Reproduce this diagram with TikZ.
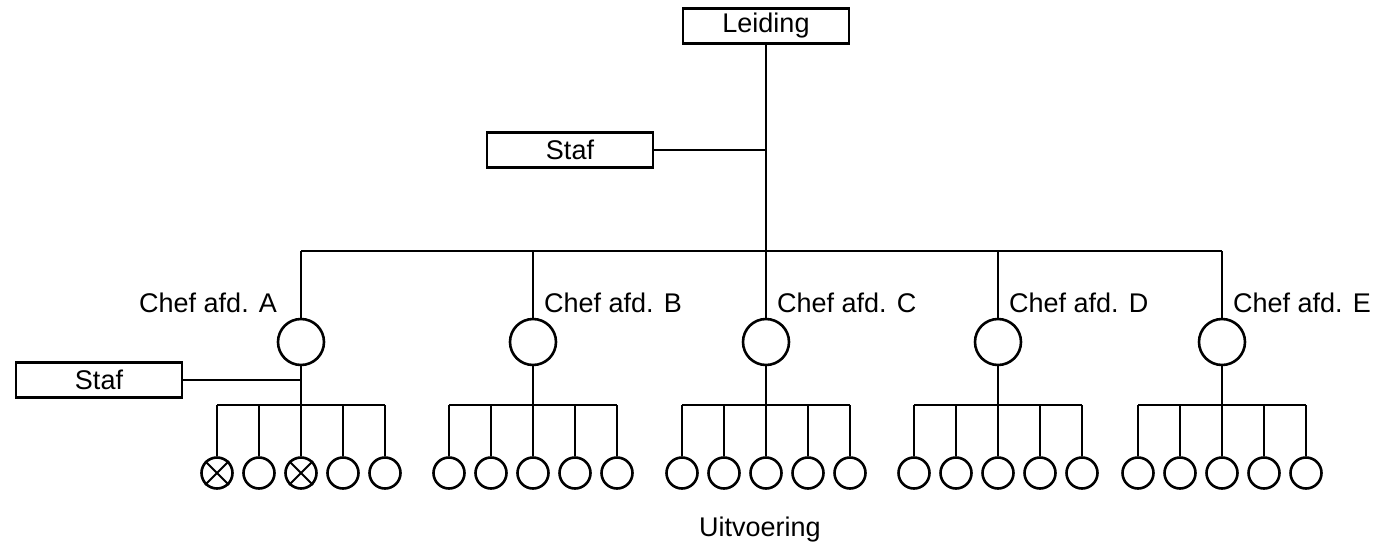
\documentclass[tikz,border=0pt]{standalone}
\usepackage{fontspec}
\setmainfont{Liberation Sans}
\usetikzlibrary{positioning}

\begin{document}
\begin{tikzpicture}[x=1pt,y=-1pt]
	\tikzset{every node/.style={font=\fontsize{27}{32}\selectfont}}
	\tikzset{box/.style={draw,line width=2.8pt,minimum width=166pt,minimum height=35pt,inner sep=0pt}}
	\tikzset{chef/.style={draw,circle,line width=2.6pt,minimum size=46pt,inner sep=0pt}}
	\tikzset{lid/.style={draw,circle,line width=2.6pt,minimum size=31pt,inner sep=0pt}}
	\tikzset{verb/.style={line width=2.8pt}}
	\tikzset{label/.style={inner sep=0pt}}
	\useasboundingbox (0,0) rectangle (1377,547);
	% top
	\node[box] (leiding) at (766,26) {Leiding};
	\node[box] (staf) at (570,150) {Staf};
	\coordinate (top) at (766,251);
	\draw[verb] (leiding) -- (top);
	\draw[verb] (staf) -- (staf -| leiding);
	% departments
	\foreach \n/\x in {A/301,B/533,C/766,D/998,E/1222}{
		\node[chef] (chef\n) at (\x,342) {};
		\coordinate (bus\n) at (\x,405);
		\draw[verb] (chef\n) -- (chef\n |- top);
		\draw[verb] (chef\n) -- (bus\n);
		\foreach \i in {1,...,5}{
			\node[lid] (lid\n\i) at (\x+\i*42-126,473) {};
			\draw[verb] (lid\n\i) -- (lid\n\i |- bus\n);
		}
		\draw[verb] (lid\n1 |- bus\n) -- (lid\n5 |- bus\n);
	}
	\draw[verb] (chefA |- top) -- (chefE |- top);
	% labels
	\node[label,anchor=east] (labA) at (277,303) {Chef afd. A};
	\foreach \n/\x in {B/544,C/777,D/1009,E/1233}
		\node[label,anchor=west] (lab\n) at (\x,303) {Chef afd. \n};
	% staf of A
	\node[box] (stafA) at (99,380) {Staf};
	\draw[verb] (stafA) -- (stafA -| chefA);
	\foreach \i in {1,3}
		\draw[line width=2pt] (lidA\i.45) -- (lidA\i.225) (lidA\i.135) -- (lidA\i.315);
	\node (uitvoering) at (760,530) {Uitvoering};
\end{tikzpicture}
\end{document}
